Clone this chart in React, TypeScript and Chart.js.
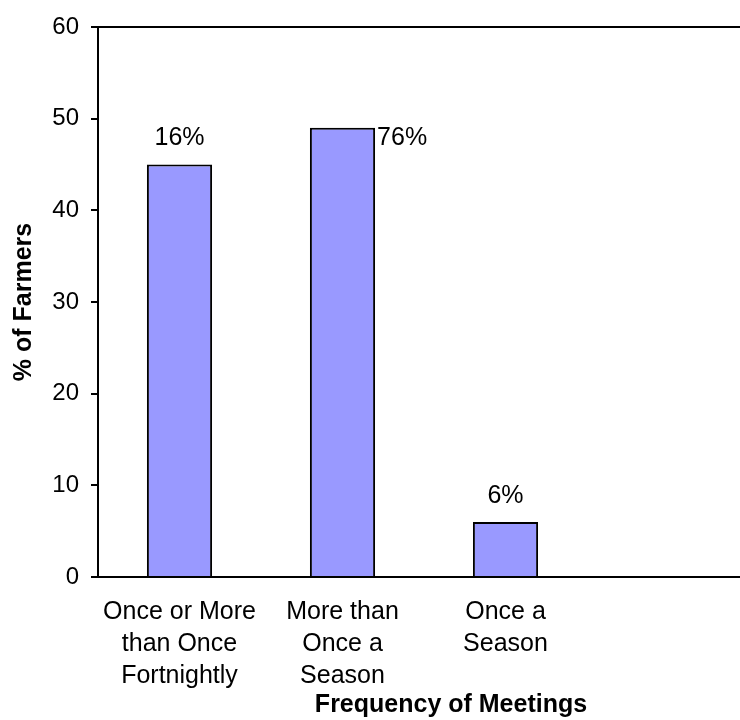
import React, { useEffect, useRef } from "react";
import { Chart, registerables } from "chart.js";

Chart.register(...registerables);

const categories: (string | string[])[] = [
  ["Once or More", "than Once", "Fortnightly"],
  ["More than", "Once a", "Season"],
  ["Once a", "Season"],
  "",
];
const values: (number | null)[] = [45, 49, 6, null];
const dataLabels = ["16%", "76%", "6%", ""];
const labelPlacement = ["above", "right", "above", "none"];
const yMin = 0;
const yMax = 60;
const yStep = 10;
const xTitle = "Frequency of Meetings";
const yTitle = "% of Farmers";

const FONT = "'Liberation Sans', Arial, Helvetica, sans-serif";
const FS = 25;
const FS_Y = 24;

const overlayPlugin = {
  id: "overlay",
  afterDatasetsDraw(chart: any) {
    const ctx = chart.ctx;
    const meta = chart.getDatasetMeta(0);
    ctx.save();
    ctx.fillStyle = "#000";
    ctx.font = `${FS}px ${FONT}`;
    ctx.textBaseline = "middle";
    meta.data.forEach((bar: any, i: number) => {
      const p = labelPlacement[i];
      const t = dataLabels[i];
      if (!t || p === "none" || values[i] == null) return;
      if (p === "above") {
        ctx.textAlign = "center";
        ctx.fillText(t, bar.x, bar.y - 26);
      } else {
        ctx.textAlign = "left";
        ctx.fillText(t, bar.x + bar.width / 2 + 2, bar.y + 10);
      }
    });
    ctx.restore();
  },
  afterDraw(chart: any) {
    const ctx = chart.ctx;
    const { top, bottom } = chart.chartArea;
    ctx.save();
    ctx.fillStyle = "#000";
    ctx.font = `bold ${FS}px ${FONT}`;
    ctx.textAlign = "center";
    ctx.textBaseline = "middle";
    ctx.translate(24, (top + bottom) / 2);
    ctx.rotate(-Math.PI / 2);
    ctx.fillText(yTitle, 0, 0);
    ctx.restore();
    ctx.save();
    ctx.fillStyle = "#000";
    ctx.font = `bold ${FS}px ${FONT}`;
    ctx.textAlign = "center";
    ctx.textBaseline = "middle";
    ctx.fillText(xTitle, 451, 705);
    ctx.restore();
  },
};

export default function App() {
  const ref = useRef<HTMLCanvasElement | null>(null);
  useEffect(() => {
    if (!ref.current) return;
    const chart = new Chart(ref.current, {
      type: "bar",
      data: {
        labels: categories as any,
        datasets: [
          {
            data: values as any,
            backgroundColor: "#9999FF",
            borderColor: "#000",
            borderWidth: 2,
            barPercentage: 0.4,
            categoryPercentage: 1,
          },
        ],
      },
      options: {
        animation: false,
        responsive: false,
        devicePixelRatio: 1,
        layout: { padding: { top: 27, right: 10, left: 0, bottom: 0 } },
        plugins: { legend: { display: false }, tooltip: { enabled: false } },
        scales: {
          x: {
            grid: { display: true, color: "transparent", drawTicks: false },
            border: { display: true, color: "#000", width: 2 },
            ticks: {
              color: "#000",
              font: { family: FONT, size: FS, lineHeight: 1.28 },
              padding: 19,
              maxRotation: 0,
              autoSkip: false,
            },
            afterFit(scale: any) {
              scale.height = 143;
            },
          },
          y: {
            min: yMin,
            max: yMax,
            grid: {
              color: (c: any) => (c.tick && c.tick.value === yMax ? "#000" : "transparent"),
              lineWidth: 2,
              tickColor: "#000",
              tickLength: 7,
              drawTicks: true,
            },
            border: { display: true, color: "#000", width: 2 },
            ticks: {
              stepSize: yStep,
              color: "#000",
              font: { family: FONT, size: FS_Y },
              padding: 12,
            },
            afterFit(scale: any) {
              scale.width = 98;
            },
          },
        },
      },
      plugins: [overlayPlugin],
    });
    return () => chart.destroy();
  }, []);
  return (
    <div
      style={{
        position: "fixed",
        left: 0,
        top: 0,
        width: 740,
        height: 720,
        overflow: "hidden",
        background: "#fff",
      }}
    >
      <canvas ref={ref} width={760} height={720} style={{ display: "block", width: 760, height: 720 }} />
    </div>
  );
}
